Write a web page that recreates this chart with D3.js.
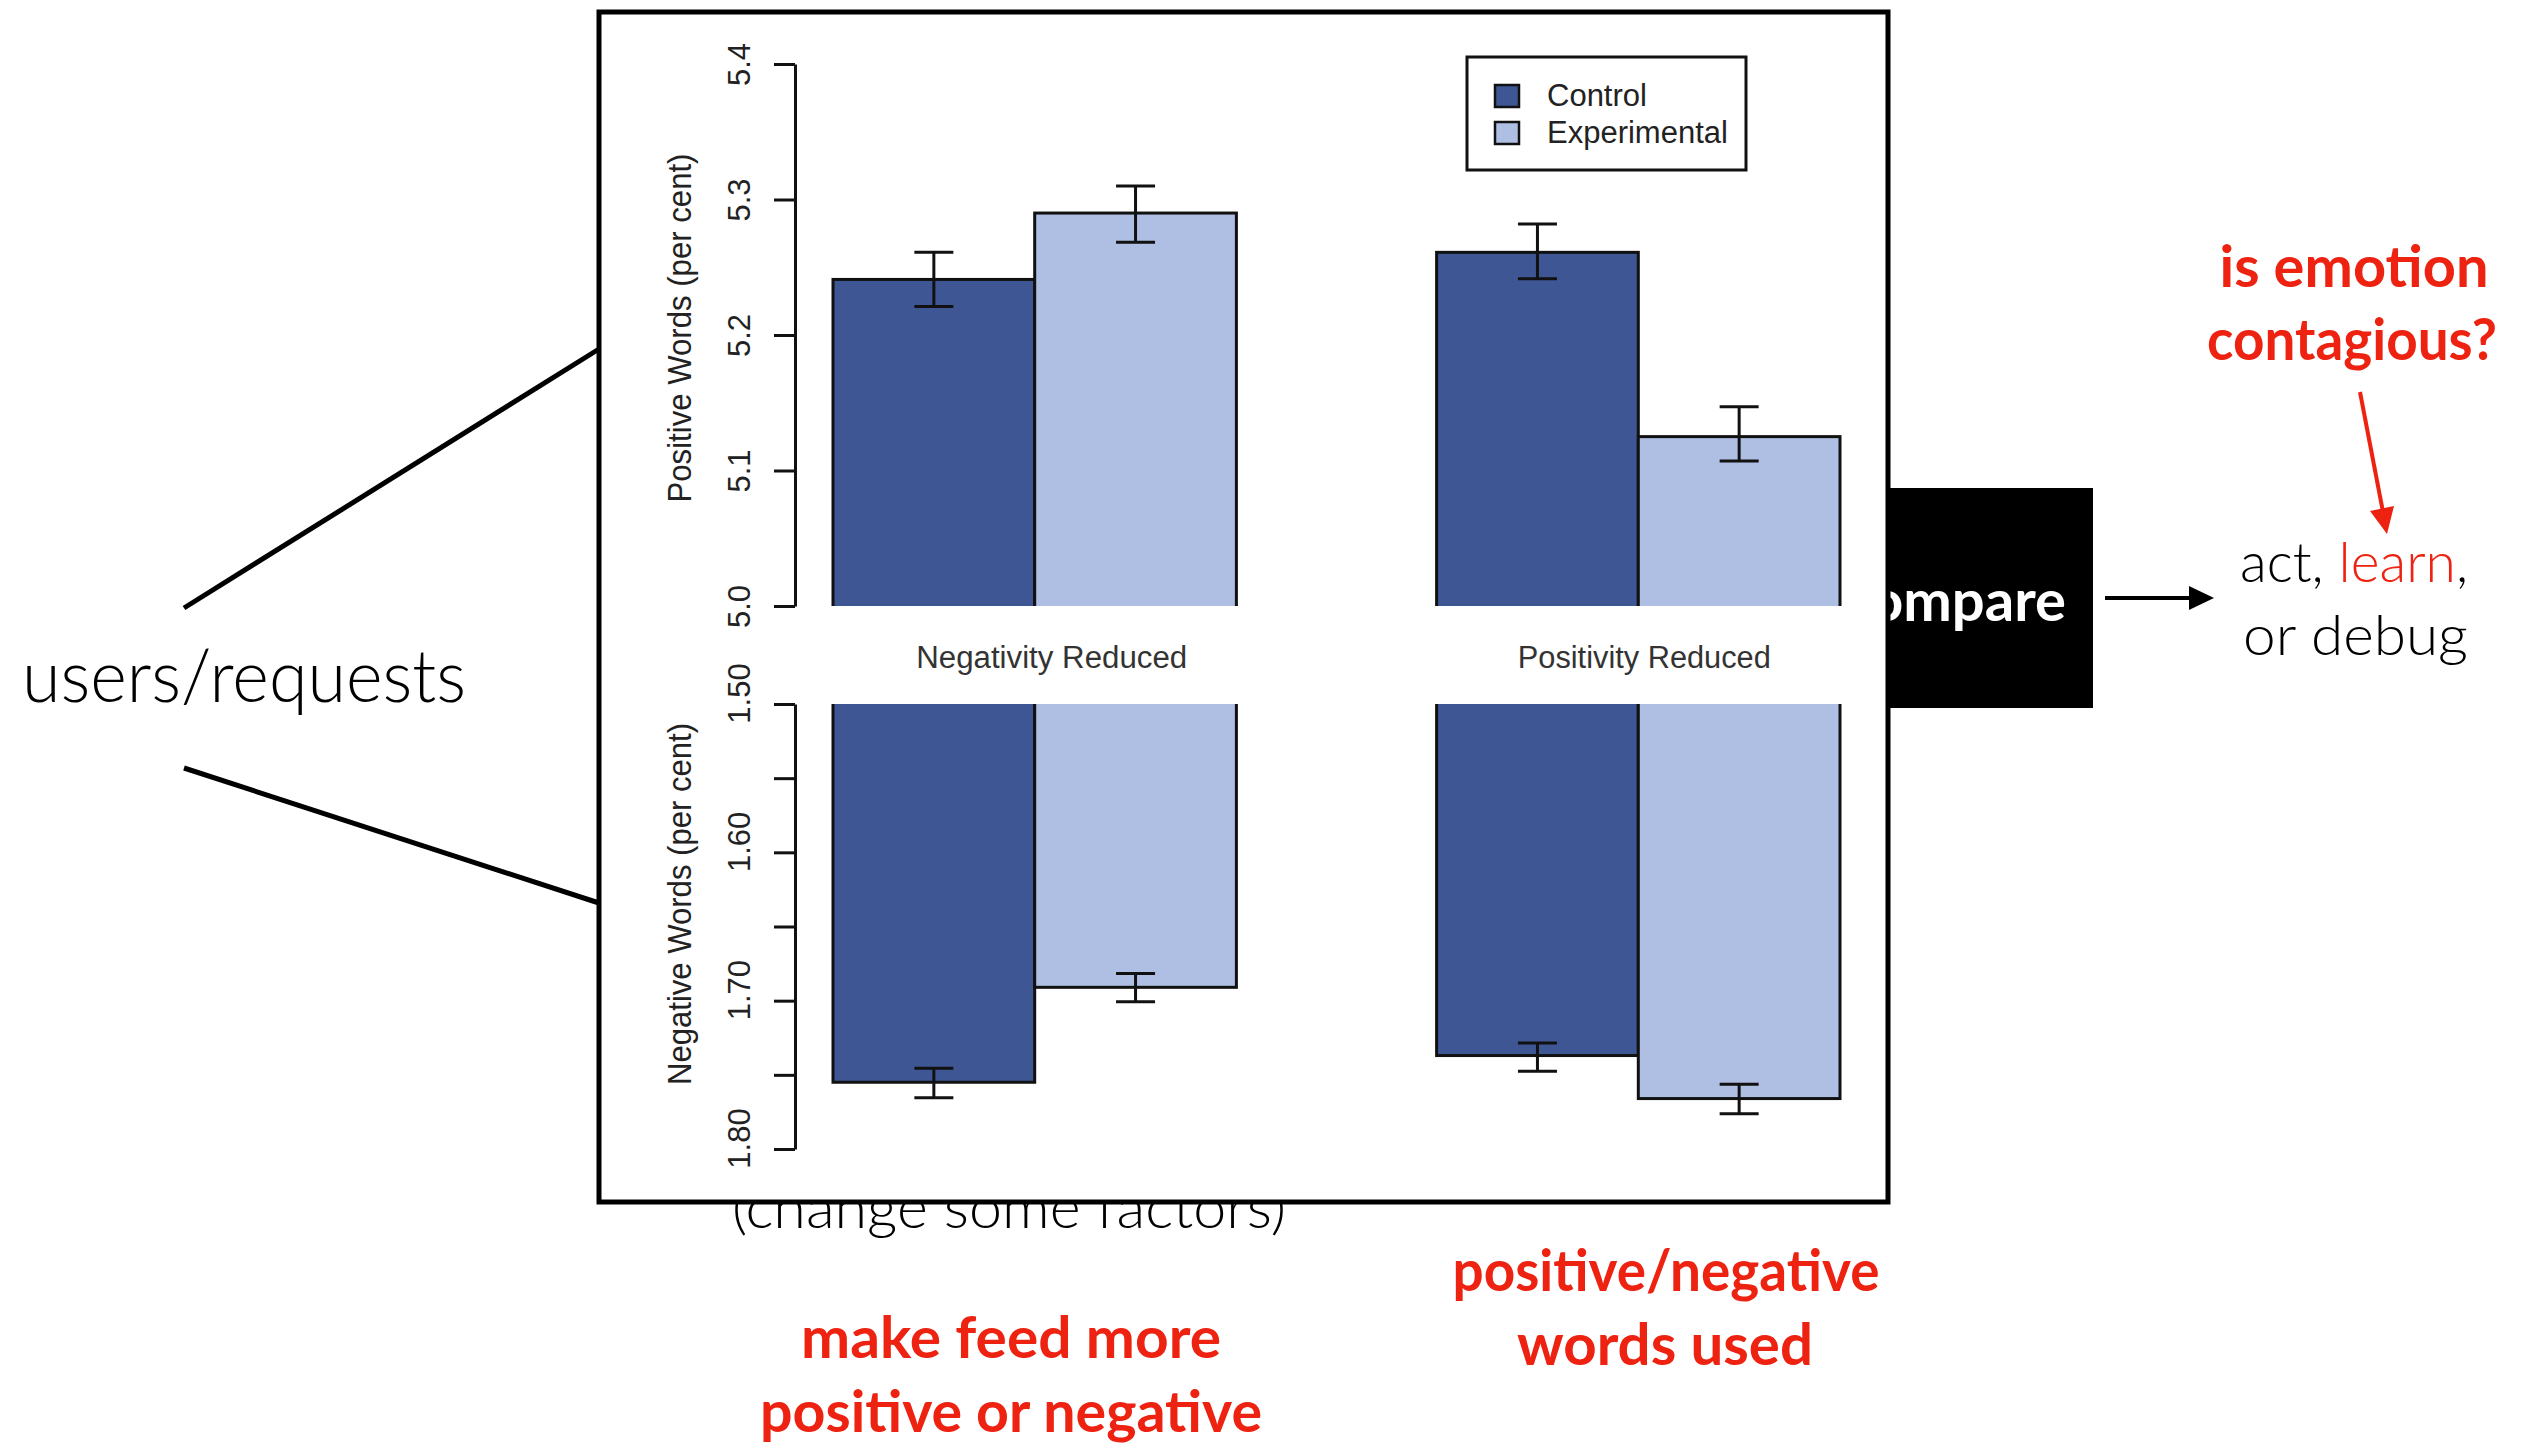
<!DOCTYPE html>
<html>
<head>
<meta charset="utf-8">
<script src="https://cdn.jsdelivr.net/npm/d3@7"></script>
<style>
  body { margin: 0; background: #fff; }
  svg { display: block; }
</style>
</head>
<body>
<div id="chart"></div>
<script>
const groups = ["Negativity Reduced", "Positivity Reduced"];
const series = ["Control", "Experimental"];
const colors = ["#3e5794", "#aebfe3"];

// positive words (per cent), per group
const posControl = [5.241, 5.261];
const posExperimental = [5.290, 5.125];
const posControlErr = [[5.221, 5.261], [5.2415, 5.282]];
const posExperimentalErr = [[5.2685, 5.310], [5.107, 5.147]];

// negative words (per cent), per group
const negControl = [1.755, 1.737];
const negExperimental = [1.691, 1.766];
const negControlErr = [[1.7455, 1.7655], [1.7286, 1.7475]];
const negExperimentalErr = [[1.6817, 1.7007], [1.7563, 1.7763]];

const posTicks = [5.0, 5.1, 5.2, 5.3, 5.4];
const posTickLabels = ["5.0", "5.1", "5.2", "5.3", "5.4"];
const negTicks = [1.50, 1.55, 1.60, 1.65, 1.70, 1.75, 1.80];
const negTickLabels = ["1.50", "", "1.60", "", "1.70", "", "1.80"];

const rows = groups.flatMap((g, i) => [
  { g, s: "Control", pos: posControl[i], posErr: posControlErr[i], neg: negControl[i], negErr: negControlErr[i] },
  { g, s: "Experimental", pos: posExperimental[i], posErr: posExperimentalErr[i], neg: negExperimental[i], negErr: negExperimentalErr[i] }
]);

const width = 2534, height = 1443;
const red = "#ee2211";
const slideFont = "Lato, 'Open Sans', sans-serif";
const chartFont = "'Liberation Sans', Arial, sans-serif";

const svg = d3.select("#chart").append("svg")
  .attr("width", width)
  .attr("height", height)
  .attr("viewBox", [0, 0, width, height]);

// ---- slide stuff behind the chart ----
const lines = [[[184, 608], [599, 349]], [[184, 768], [599, 903]]];
svg.append("g").selectAll("line").data(lines).join("line")
  .attr("x1", d => d[0][0]).attr("y1", d => d[0][1])
  .attr("x2", d => d[1][0]).attr("y2", d => d[1][1])
  .attr("stroke", "#000").attr("stroke-width", 5);

svg.append("text").attr("x", 22).attr("y", 702)
  .attr("font-family", slideFont).attr("font-weight", 300).attr("font-size", 72)
  .attr("textLength", 444).attr("lengthAdjust", "spacingAndGlyphs")
  .text("users/requests");

svg.append("rect").attr("x", 1700).attr("y", 488).attr("width", 393).attr("height", 220).attr("fill", "#000");
svg.append("text").attr("x", 2066).attr("y", 621).attr("text-anchor", "end")
  .attr("font-family", slideFont).attr("font-weight", 700).attr("font-size", 58)
  .attr("fill", "#fff").text("Compare");

svg.append("text").attr("x", 732).attr("y", 1228)
  .attr("font-family", slideFont).attr("font-weight", 300).attr("font-size", 58)
  .attr("textLength", 554).attr("lengthAdjust", "spacingAndGlyphs")
  .text("(change some factors)");

// ---- chart frame ----
svg.append("rect").attr("x", 599).attr("y", 12).attr("width", 1289).attr("height", 1190)
  .attr("fill", "#fff").attr("stroke", "#000").attr("stroke-width", 5);

const defs = svg.append("defs");
defs.append("clipPath").attr("id", "clipTop").append("rect")
  .attr("x", 600).attr("y", 14).attr("width", 1286).attr("height", 592);
defs.append("clipPath").attr("id", "clipBottom").append("rect")
  .attr("x", 600).attr("y", 704).attr("width", 1286).attr("height", 496);

const x0 = d3.scaleBand().domain(groups).range([833, 1840]).paddingInner(0.3317).paddingOuter(0);
const x1 = d3.scaleBand().domain(series).range([0, x0.bandwidth()]).padding(0);
const color = d3.scaleOrdinal().domain(series).range(colors);
const yPos = d3.scaleLinear().domain([5.0, 5.4]).range([606, 64]);
const yNeg = d3.scaleLinear().domain([1.5, 1.8]).range([704, 1149]);

// top bars
svg.append("g").attr("clip-path", "url(#clipTop)")
  .selectAll("rect").data(rows).join("rect")
  .attr("x", d => x0(d.g) + x1(d.s))
  .attr("y", d => yPos(d.pos))
  .attr("width", x1.bandwidth())
  .attr("height", d => yPos(5.0) - yPos(d.pos) + 20)
  .attr("fill", d => color(d.s))
  .attr("stroke", "#111").attr("stroke-width", 3);

// bottom bars, hanging down from 1.50
svg.append("g").attr("clip-path", "url(#clipBottom)")
  .selectAll("rect").data(rows).join("rect")
  .attr("x", d => x0(d.g) + x1(d.s))
  .attr("y", yNeg(1.5) - 20)
  .attr("width", x1.bandwidth())
  .attr("height", d => yNeg(d.neg) - yNeg(1.5) + 20)
  .attr("fill", d => color(d.s))
  .attr("stroke", "#111").attr("stroke-width", 3);

// error bars
function errorBars(key, y) {
  const cap = 19.5;
  svg.append("g").attr("stroke", "#111").attr("stroke-width", 3).attr("fill", "none")
    .selectAll("path").data(rows).join("path")
    .attr("d", d => {
      const cx = x0(d.g) + x1(d.s) + x1.bandwidth() / 2;
      const a = y(d[key][0]), b = y(d[key][1]);
      return `M${cx - cap},${a}H${cx + cap}M${cx},${a}V${b}M${cx - cap},${b}H${cx + cap}`;
    });
}
errorBars("posErr", yPos);
errorBars("negErr", yNeg);

// axes
function styleAxis(g, labelShift) {
  g.select(".domain").attr("stroke", "#111").attr("stroke-width", 3);
  g.selectAll(".tick line").attr("stroke", "#111").attr("stroke-width", 3);
  g.selectAll(".tick text")
    .attr("x", null).attr("dy", null)
    .attr("text-anchor", "middle")
    .attr("transform", `translate(-45,${labelShift}) rotate(-90)`)
    .attr("fill", "#222");
}

svg.append("g").attr("transform", "translate(795,0)")
  .call(d3.axisLeft(yPos).tickValues(posTicks).tickSize(21).tickSizeOuter(0)
    .tickFormat((d, i) => posTickLabels[i]))
  .call(g => styleAxis(g, 0))
  .attr("font-family", chartFont).attr("font-size", 31);

svg.append("g").attr("transform", "translate(795,0)")
  .call(d3.axisLeft(yNeg).tickValues(negTicks).tickSize(21).tickSizeOuter(0)
    .tickFormat((d, i) => negTickLabels[i]))
  .call(g => styleAxis(g, -11))
  .attr("font-family", chartFont).attr("font-size", 31);

// axis titles
const titles = [
  { text: "Positive Words (per cent)", y: 328, len: 349 },
  { text: "Negative Words (per cent)", y: 904, len: 362 }
];
svg.append("g").selectAll("text").data(titles).join("text")
  .attr("transform", d => `translate(691,${d.y}) rotate(-90)`)
  .attr("text-anchor", "middle")
  .attr("font-family", chartFont).attr("font-size", 33).attr("fill", "#222")
  .attr("textLength", d => d.len).attr("lengthAdjust", "spacingAndGlyphs")
  .text(d => d.text);

// group labels between the panels
const groupLabelShift = [17, 6];
const groupLabelLen = [271, 253];
svg.append("g").selectAll("text").data(groups).join("text")
  .attr("x", (d, i) => x0(d) + x0.bandwidth() / 2 + groupLabelShift[i])
  .attr("y", 668)
  .attr("text-anchor", "middle")
  .attr("font-family", chartFont).attr("font-size", 31).attr("fill", "#333")
  .attr("textLength", (d, i) => groupLabelLen[i]).attr("lengthAdjust", "spacingAndGlyphs")
  .text(d => d);

// legend
const legend = svg.append("g").attr("transform", "translate(1467,57)");
legend.append("rect").attr("width", 279).attr("height", 113)
  .attr("fill", "#fff").attr("stroke", "#111").attr("stroke-width", 3);
const item = legend.selectAll("g").data(series).join("g")
  .attr("transform", (d, i) => `translate(28,${28 + i * 37})`);
item.append("rect").attr("width", 24).attr("height", 22)
  .attr("fill", d => color(d)).attr("stroke", "#111").attr("stroke-width", 2.5);
item.append("text").attr("x", 52).attr("y", 21)
  .attr("font-family", chartFont).attr("font-size", 31).attr("fill", "#222")
  .text(d => d);

// ---- slide stuff on the right and below ----
svg.append("line").attr("x1", 2105).attr("y1", 598).attr("x2", 2192).attr("y2", 598)
  .attr("stroke", "#000").attr("stroke-width", 4);
svg.append("path").attr("d", "M2189,586L2214,598L2189,610Z").attr("fill", "#000");

const act = svg.append("text").attr("x", 2240).attr("y", 582)
  .attr("font-family", slideFont).attr("font-weight", 300).attr("font-size", 56)
  .attr("textLength", 228).attr("lengthAdjust", "spacingAndGlyphs");
act.append("tspan").text("act, ");
act.append("tspan").attr("fill", red).text("learn");
act.append("tspan").text(",");
svg.append("text").attr("x", 2243).attr("y", 655)
  .attr("font-family", slideFont).attr("font-weight", 300).attr("font-size", 56)
  .attr("textLength", 225).attr("lengthAdjust", "spacingAndGlyphs")
  .text("or debug");

svg.append("line").attr("x1", 2360).attr("y1", 392).attr("x2", 2383).attr("y2", 512)
  .attr("stroke", red).attr("stroke-width", 4);
svg.append("path").attr("d", "M2387,534L2394,506L2370,511Z").attr("fill", red);

const redTexts = [
  { t: "is emotion", x: 2354, y: 287, len: 269 },
  { t: "contagious?", x: 2352, y: 360, len: 290 },
  { t: "positive/negative", x: 1666, y: 1291, len: 427 },
  { t: "words used", x: 1665, y: 1365, len: 296 },
  { t: "make feed more", x: 1011, y: 1358, len: 420 },
  { t: "positive or negative", x: 1011, y: 1432, len: 502 }
];
svg.append("g").selectAll("text").data(redTexts).join("text")
  .attr("x", d => d.x).attr("y", d => d.y)
  .attr("text-anchor", "middle")
  .attr("font-family", slideFont).attr("font-weight", 700).attr("font-size", 58)
  .attr("fill", red)
  .attr("textLength", d => d.len).attr("lengthAdjust", "spacingAndGlyphs")
  .text(d => d.t);
</script>
</body>
</html>
